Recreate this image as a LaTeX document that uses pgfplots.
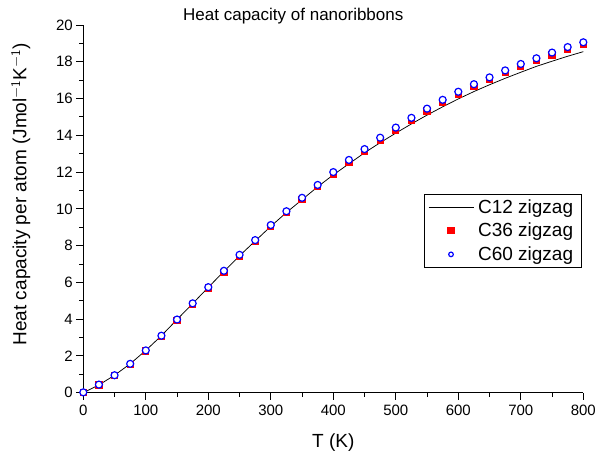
\documentclass[border=0pt]{standalone}
\usepackage{fontspec}
\setmainfont{Liberation Sans}
\usepackage{pgfplots}
\pgfplotsset{compat=1.18}
\begin{document}
\begin{tikzpicture}
\useasboundingbox (-83.3pt,-59.3pt) rectangle (511.7pt,392.7pt);
\begin{axis}[
  scale only axis, width=500pt, height=367.7pt,
  xmin=0, xmax=800, ymin=0, ymax=20,
  axis x line*=bottom, axis y line*=left,
  axis line style={line width=0.9pt,-},
  xtick distance=100, ytick distance=2,
  minor x tick num=1, minor y tick num=1,
  tick align=outside,
  major tick length=7pt, minor tick length=4pt,
  every tick/.style={black, line width=0.9pt},
  /pgf/number format/assume math mode=true,
  ticklabel style={font=\fontsize{15}{18}\selectfont},
  xticklabel style={yshift=-2pt},
  xlabel={T (K)},
  ylabel={Heat capacity per atom (Jmol$^{\mathsf{-1}}$K$^{\mathsf{-1}}$)},
  label style={font=\fontsize{19}{22}\selectfont},
  xlabel style={at={(axis description cs:0.5,0)}, anchor=base, yshift=-55.3pt},
  ylabel style={at={(axis description cs:-0.114,0.54)}, anchor=base},
  title={Heat capacity of nanoribbons},
  title style={at={(axis description cs:0.42,1)}, anchor=base, yshift=-2pt, font=\fontsize{17}{20}\selectfont},
  legend image code/.code={\draw[mark repeat=2,mark phase=2,#1] plot coordinates {(0pt,0pt) (22.5pt,0pt) (45pt,0pt)};},
  legend cell align=left,
  legend style={at={(axis description cs:0.997,0.541)}, anchor=north east,
    draw=black, line width=0.9pt, inner xsep=4pt, inner ysep=1pt,
    font=\fontsize{19}{22}\selectfont, nodes={inner sep=4.2pt}},
]
\addplot[black, line width=0.75pt, mark=none] coordinates {
(0,0) (25,0.42) (50,0.95) (75,1.57) (100,2.3) (125,3.1) (150,3.98) (175,4.85)
(200,5.73) (225,6.6) (250,7.45) (275,8.25) (300,9.05) (325,9.8) (350,10.5)
(375,11.2) (400,11.85) (425,12.45) (450,13.05) (475,13.6) (500,14.12)
(525,14.62) (550,15.1) (575,15.55) (600,15.98) (625,16.38) (650,16.75)
(675,17.1) (700,17.43) (725,17.75) (750,18.03) (775,18.3) (800,18.55)
};
\addlegendentry{C12 zigzag}
\addplot[only marks, mark=square*, mark size=3.1pt, mark options={draw=red, fill=red, line width=0pt}] coordinates {
(0,0) (25,0.42) (50,0.93) (75,1.54) (100,2.27) (125,3.06) (150,3.94) (175,4.8)
(200,5.69) (225,6.55) (250,7.41) (275,8.21) (300,9.02) (325,9.78) (350,10.5)
(375,11.2) (400,11.88) (425,12.54) (450,13.13) (475,13.74) (500,14.29)
(525,14.82) (550,15.32) (575,15.8) (600,16.24) (625,16.65) (650,17.02)
(675,17.4) (700,17.75) (725,18.06) (750,18.37) (775,18.67) (800,18.93)
};
\addlegendentry{C36 zigzag}
\addplot[only marks, mark=*, mark size=3.5pt, mark options={draw=blue, fill=white, line width=1.2pt},
  legend image post style={mark size=2.3pt}] coordinates {
(0,0.02) (25,0.44) (50,0.95) (75,1.57) (100,2.3) (125,3.1) (150,3.98) (175,4.86)
(200,5.74) (225,6.63) (250,7.5) (275,8.3) (300,9.12) (325,9.87) (350,10.6)
(375,11.3) (400,12.0) (425,12.66) (450,13.25) (475,13.87) (500,14.42)
(525,14.95) (550,15.45) (575,15.93) (600,16.37) (625,16.78) (650,17.15)
(675,17.53) (700,17.88) (725,18.19) (750,18.5) (775,18.8) (800,19.06)
};
\addlegendentry{C60 zigzag}
\end{axis}
\end{tikzpicture}
\end{document}
